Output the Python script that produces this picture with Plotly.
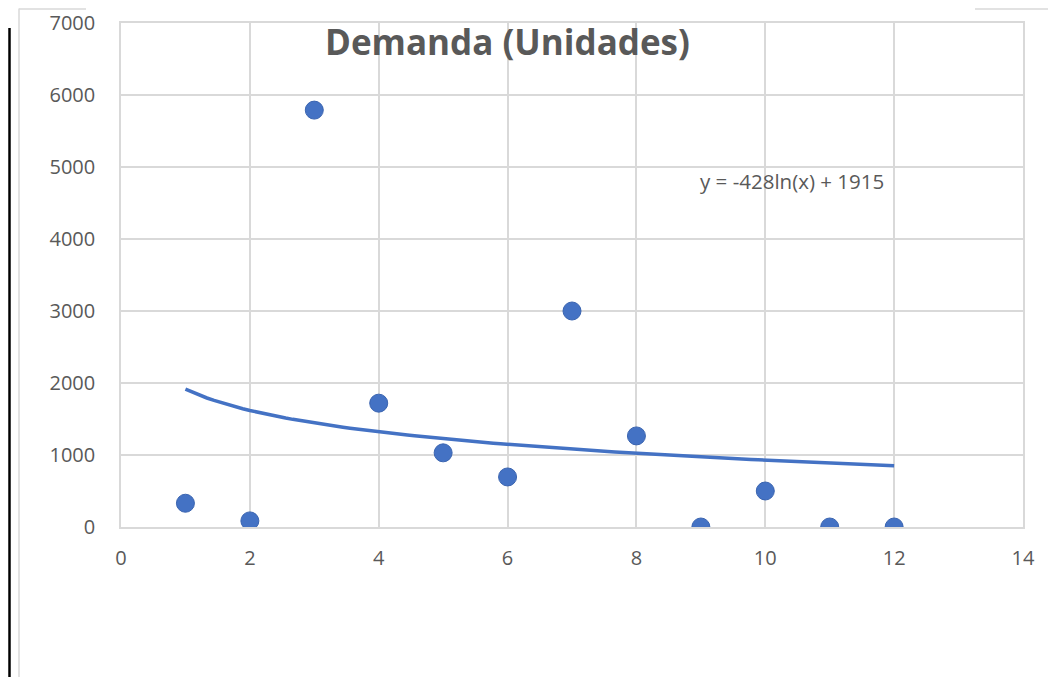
import numpy as np
import plotly.graph_objects as go

# Data
months = [1, 2, 3, 4, 5, 6, 7, 8, 9, 10, 11, 12]
demand = [330, 85, 5790, 1720, 1030, 695, 3000, 1265, 0, 500, 0, 0]
trend_a = -428
trend_b = 1915
title_text = "Demanda (Unidades)"
equation_text = "y = -428ln(x) + 1915"

OFF = 8  # page body margin
W, H = 1056 - OFF, 677 - OFF
L, R, T, B = 121, 1023, 23, 527  # plot area in screen px
pw, ph = R - L, B - T

def px(x):
    return (x - L) / pw

def py(y):
    return (B - y) / ph

tx = np.linspace(1, 12, 100)
ty = trend_a * np.log(tx) + trend_b

fig = go.Figure()
fig.add_trace(go.Scatter(
    x=tx, y=ty, mode="lines",
    line=dict(color="#4472C4", width=3.5),
    hoverinfo="skip", showlegend=False))
fig.add_trace(go.Scatter(
    x=months, y=demand, mode="markers",
    marker=dict(size=18, color="#4472C4", line=dict(color="#3A64B0", width=1)),
    showlegend=False))

grid = "#D9D9D9"
FONT = "Open Sans, Liberation Sans, sans-serif"
fig.update_layout(
    width=W, height=H,
    margin=dict(l=L - OFF, r=1056 - R, t=T - OFF, b=677 - B, pad=0),
    paper_bgcolor="white", plot_bgcolor="white",
    font=dict(family=FONT, color="#595959", size=20),
    xaxis=dict(range=[0, 14], tickmode="array", tickvals=list(range(0, 15, 2)),
               showgrid=True, gridcolor=grid, gridwidth=1.5, zeroline=False,
               showline=True, linecolor=grid, linewidth=1.5, mirror=True,
               ticks="", ticklabelstandoff=12, automargin=False,
               tickfont=dict(size=20, color="#595959")),
    yaxis=dict(range=[0, 7000], tickmode="array", tickvals=list(range(0, 7001, 1000)),
               showgrid=True, gridcolor=grid, gridwidth=1.5, zeroline=False,
               showline=True, linecolor=grid, linewidth=1.5, mirror=True,
               ticks="", ticklabelstandoff=20, automargin=False,
               tickfont=dict(size=20, color="#595959")),
    annotations=[
        dict(text="<b>" + title_text + "</b>", x=px(507), y=py(42), xref="paper", yref="paper",
             showarrow=False, xanchor="center", yanchor="middle",
             font=dict(size=35, color="#595959", family=FONT)),
        dict(text=equation_text, x=px(792), y=py(181), xref="paper", yref="paper",
             showarrow=False, xanchor="center", yanchor="middle",
             font=dict(size=20.5, color="#595959", family=FONT)),
    ],
    shapes=[
        dict(type="line", xref="paper", yref="paper", x0=px(9.5), x1=px(9.5), y0=py(28), y1=py(677),
             line=dict(color="black", width=2.5)),
        dict(type="line", xref="paper", yref="paper", x0=px(19), x1=px(19), y0=py(8.5), y1=py(677),
             line=dict(color="#D9D9D9", width=1.5)),
        dict(type="line", xref="paper", yref="paper", x0=px(19), x1=px(86), y0=py(9), y1=py(9),
             line=dict(color="#D9D9D9", width=1.5)),
        dict(type="line", xref="paper", yref="paper", x0=px(975), x1=px(1051), y0=py(9), y1=py(9),
             line=dict(color="#D9D9D9", width=1.5)),
        dict(type="line", xref="paper", yref="paper", x0=px(1051), x1=px(1051), y0=py(8.5), y1=py(677),
             line=dict(color="#D9D9D9", width=1.5)),
    ],
)

fig.write_html("out.html")
